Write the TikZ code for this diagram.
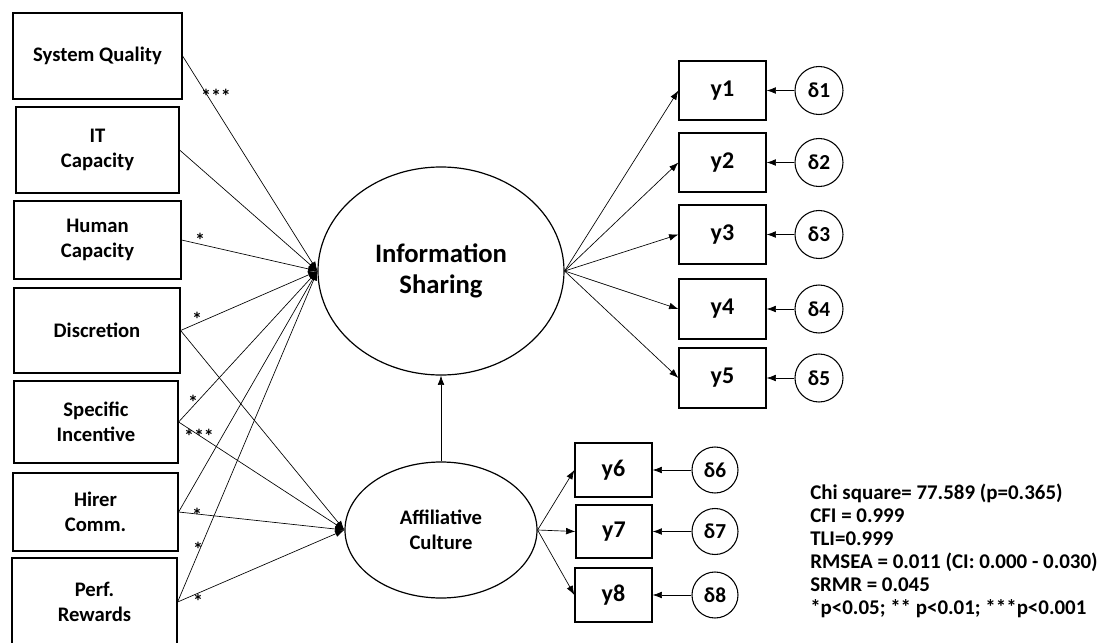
\documentclass[tikz,border=0pt]{standalone}
\usepackage{fontspec}
\setmainfont{Carlito}
\usetikzlibrary{shapes.geometric,arrows.meta}
\begin{document}
\begin{tikzpicture}[x=0.75pt,y=-0.75pt,
  box/.style 2 args={draw, line width=0.9pt, inner sep=0pt, minimum width=#1, minimum height=#2, font=\fontsize{15.5}{19}\selectfont\bfseries, align=center},
  ybox/.style 2 args={draw, line width=0.9pt, inner sep=0pt, minimum width=#1, minimum height=#2, font=\fontsize{18}{20}\selectfont\bfseries},
  lat/.style={draw, line width=0.9pt, ellipse, inner sep=0pt, align=center},
  err/.style={draw, circle, line width=0.8pt, inner sep=0pt, minimum size=#1, font=\fontsize{16}{18}\selectfont\bfseries},
  conn/.style={line width=0.5pt, -{Latex[length=7pt,width=5pt]}},
  sig/.style={font=\fontsize{15}{15}\selectfont\bfseries, inner sep=0pt}
]
\clip (0,0) rectangle (1101,643);
\fill[white] (0,0) rectangle (1101,643);

% exogenous boxes
\node[box={126.75pt}{64.5pt}] (sq) at (97.5,56) {System Quality};
\node[box={122.25pt}{64.5pt}] (it) at (97.5,150) {IT\\Capacity};
\node[box={125.25pt}{58.5pt}] (hc) at (97.5,240) {Human\\Capacity};
\node[box={124.5pt}{63.75pt}] (di) at (97,330.5) {Discretion};
\node[box={123pt}{61.5pt}] (si) at (96,422) {Specific\\Incentive};
\node[box={123.75pt}{58.5pt}] (hi) at (95.5,512) {Hirer\\Comm.};
\node[box={123.75pt}{66pt}] (pr) at (94.5,602) {Perf.\\Rewards};

% latent variables
\node[lat, minimum width=184.5pt, minimum height=156pt, font=\fontsize{20}{23}\selectfont\bfseries] (is) at (441,271) {Information\\Sharing};
\node[lat, minimum width=144pt, minimum height=102pt, font=\fontsize{15.5}{19}\selectfont\bfseries] (ac) at (441,530) {Affiliative\\Culture};

% indicators
\node[ybox={65.25pt}{44.25pt}] (y1) at (722.5,90.5) {y1};
\node[ybox={65.25pt}{44.25pt}] (y2) at (722.5,162.5) {y2};
\node[ybox={65.25pt}{44.25pt}] (y3) at (722.5,234.5) {y3};
\node[ybox={65.25pt}{45pt}] (y4) at (722.5,309) {y4};
\node[ybox={65.25pt}{45pt}] (y5) at (722.5,378) {y5};
\node[ybox={57.75pt}{40.5pt}] (y6) at (613.5,470) {y6};
\node[ybox={57pt}{39.75pt}] (y7) at (614,531.5) {y7};
\node[ybox={57.75pt}{40.5pt}] (y8) at (613.5,595) {y8};

% errors
\node[err=36pt] (d1) at (819,90.5) {δ1};
\node[err=36pt] (d2) at (819,162.5) {δ2};
\node[err=36pt] (d3) at (819,234.5) {δ3};
\node[err=36pt] (d4) at (819,309) {δ4};
\node[err=36pt] (d5) at (819,378) {δ5};
\node[err=34.5pt] (d6) at (715,470) {δ6};
\node[err=34.5pt] (d7) at (715,531.5) {δ7};
\node[err=34.5pt] (d8) at (715,595) {δ8};

% structural paths
\draw[conn] (sq.east) -- (is.west);
\draw[conn] (it.east) -- (is.west);
\draw[conn] (hc.east) -- (is.west);
\draw[conn] (di.east) -- (is.west);
\draw[conn] (si.east) -- (is.west);
\draw[conn] (hi.east) -- (is.west);
\draw[conn] (pr.east) -- (is.west);
\draw[conn] (di.east) -- (ac.west);
\draw[conn] (si.east) -- (ac.west);
\draw[conn] (hi.east) -- (ac.west);
\draw[conn] (pr.east) -- (ac.west);
\draw[conn] (ac.north) -- (is.south);

% measurement paths
\foreach \k in {1,...,5} {
  \draw[conn] (is.east) -- (y\k.west);
  \draw[conn] (d\k.west) -- (y\k.east);
}
\foreach \k in {6,7,8} {
  \draw[conn] (ac.east) -- (y\k.west);
  \draw[conn] (d\k.west) -- (y\k.east);
}

% significance marks
\node[sig] (s1) at (216,96) {***};
\node[sig] (s2) at (200,240) {*};
\node[sig] (s3) at (197,319) {*};
\node[sig] (s4) at (193,402) {*};
\node[sig] (s5) at (199,436) {***};
\node[sig] (s6) at (197,515) {*};
\node[sig] (s7) at (198,549) {*};
\node[sig] (s8) at (198,601) {*};

% fit statistics
\node[anchor=north west, align=left, inner sep=0pt, font=\fontsize{15.7}{17.25}\selectfont\bfseries] (fitst) at (810,484)
{Chi square= 77.589 (p=0.365)\\CFI = 0.999\\TLI=0.999\\RMSEA = 0.011 (CI: 0.000 - 0.030)\\SRMR = 0.045\\*p<0.05; ** p<0.01; ***p<0.001};
\end{tikzpicture}
\end{document}
